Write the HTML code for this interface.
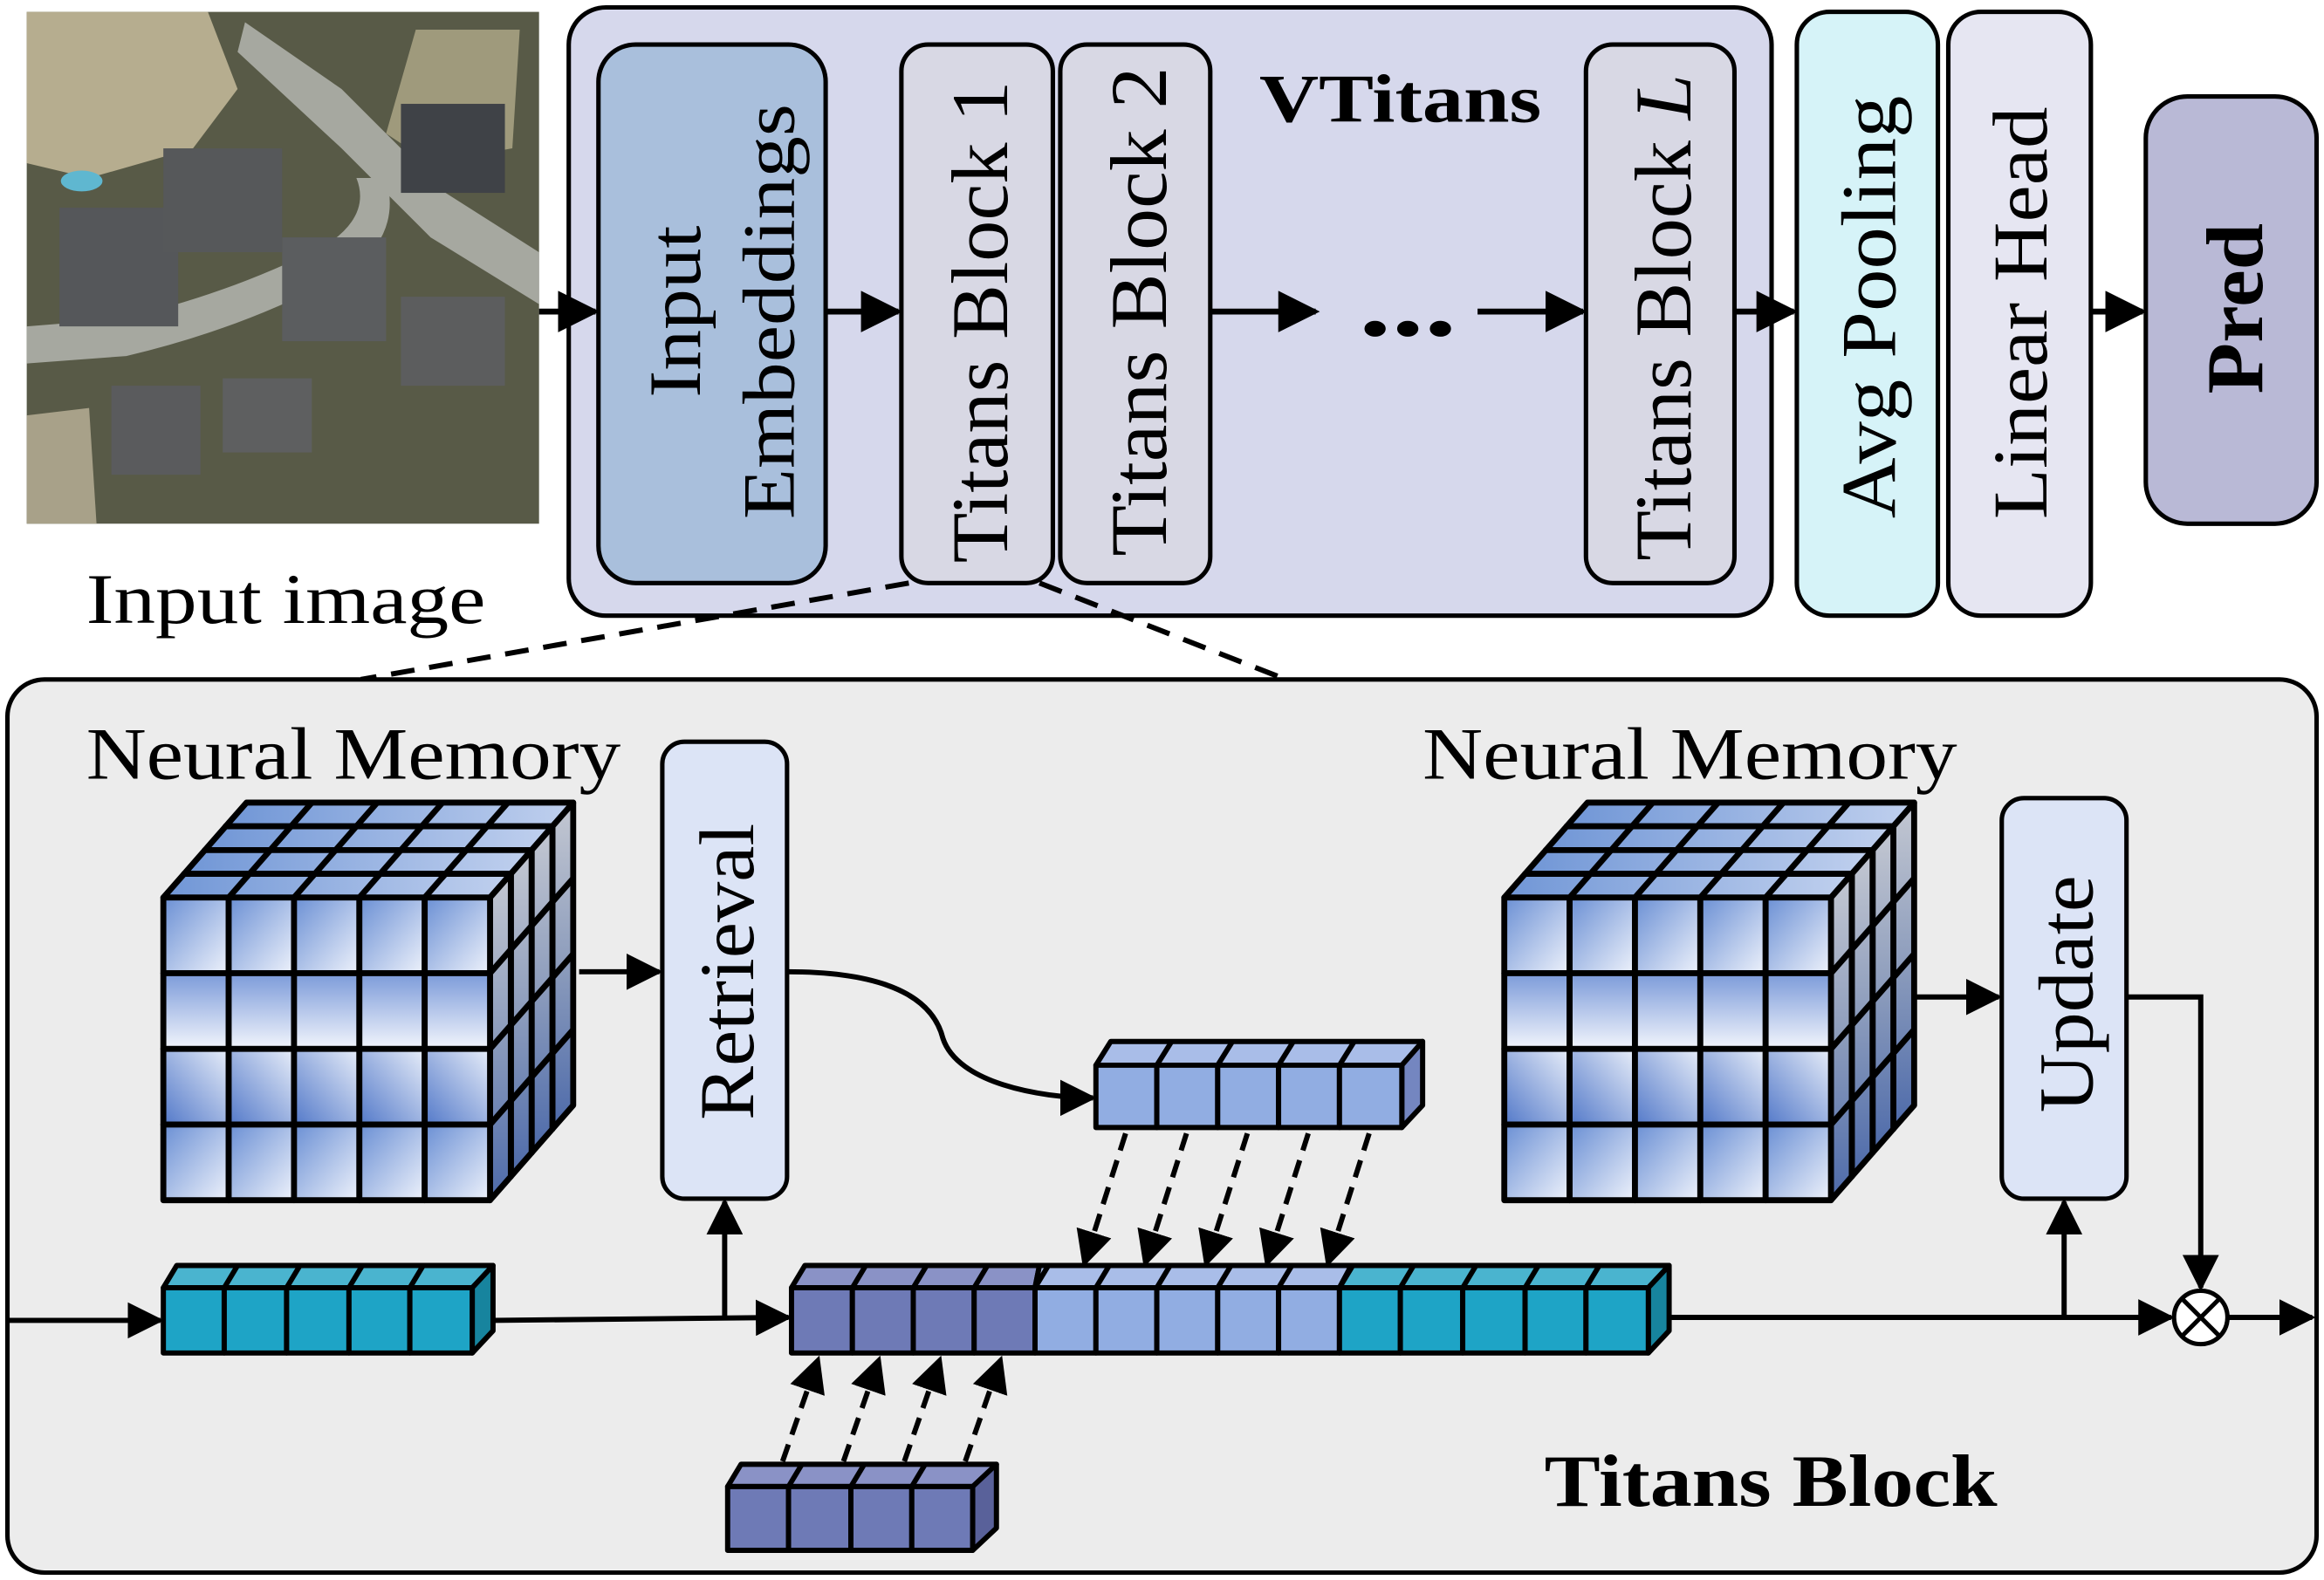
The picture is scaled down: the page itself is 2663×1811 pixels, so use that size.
<!DOCTYPE html>
<html><head><meta charset="utf-8"><style>html,body{margin:0;padding:0;background:#fff}svg{display:block}</style></head>
<body>
<svg width="2663" height="1811" viewBox="0 0 1565 1065" preserveAspectRatio="none" xmlns="http://www.w3.org/2000/svg" font-family="'Liberation Serif', serif">
<defs>
<linearGradient id="gA" x1="0" y1="0" x2="1" y2="1"><stop offset="0" stop-color="#6a8fd4"/><stop offset="1" stop-color="#eef2fb"/></linearGradient>
<linearGradient id="gB" x1="0" y1="1" x2="0" y2="0"><stop offset="0" stop-color="#f2f5fc"/><stop offset="1" stop-color="#7b9ad9"/></linearGradient>
<linearGradient id="gC" x1="0" y1="1" x2="1" y2="0"><stop offset="0" stop-color="#5379c9"/><stop offset="1" stop-color="#e8eef9"/></linearGradient>
<linearGradient id="gT" x1="0" y1="0" x2="1" y2="0"><stop offset="0" stop-color="#7096d6"/><stop offset="1" stop-color="#c0d0ee"/></linearGradient>
<linearGradient id="gS" x1="0" y1="0" x2="0" y2="1"><stop offset="0" stop-color="#c4c8d2"/><stop offset="0.5" stop-color="#8c9cbc"/><stop offset="1" stop-color="#4d6aaa"/></linearGradient>
<g id="row5">
 <rect x="0" y="0" width="44" height="51" fill="url(#gA)" stroke="#000" stroke-width="4"/>
 <rect x="44" y="0" width="44" height="51" fill="url(#gA)" stroke="#000" stroke-width="4"/>
 <rect x="88" y="0" width="44" height="51" fill="url(#gA)" stroke="#000" stroke-width="4"/>
 <rect x="132" y="0" width="44" height="51" fill="url(#gA)" stroke="#000" stroke-width="4"/>
 <rect x="176" y="0" width="44" height="51" fill="url(#gA)" stroke="#000" stroke-width="4"/>
</g>
<g id="row5b">
 <rect x="0" y="0" width="44" height="51" fill="url(#gB)" stroke="#000" stroke-width="4"/>
 <rect x="44" y="0" width="44" height="51" fill="url(#gB)" stroke="#000" stroke-width="4"/>
 <rect x="88" y="0" width="44" height="51" fill="url(#gB)" stroke="#000" stroke-width="4"/>
 <rect x="132" y="0" width="44" height="51" fill="url(#gB)" stroke="#000" stroke-width="4"/>
 <rect x="176" y="0" width="44" height="51" fill="url(#gB)" stroke="#000" stroke-width="4"/>
</g>
<g id="row5c">
 <rect x="0" y="0" width="44" height="51" fill="url(#gC)" stroke="#000" stroke-width="4"/>
 <rect x="44" y="0" width="44" height="51" fill="url(#gC)" stroke="#000" stroke-width="4"/>
 <rect x="88" y="0" width="44" height="51" fill="url(#gC)" stroke="#000" stroke-width="4"/>
 <rect x="132" y="0" width="44" height="51" fill="url(#gC)" stroke="#000" stroke-width="4"/>
 <rect x="176" y="0" width="44" height="51" fill="url(#gC)" stroke="#000" stroke-width="4"/>
</g>
<g id="layer" stroke="#000" stroke-width="4" stroke-linejoin="round">
 <polygon points="0,0 14,-16 234,-16 220,0" fill="url(#gT)"/>
 <line x1="44" y1="0" x2="58" y2="-16"/><line x1="88" y1="0" x2="102" y2="-16"/><line x1="132" y1="0" x2="146" y2="-16"/><line x1="176" y1="0" x2="190" y2="-16"/>
 <polygon points="220,0 234,-16 234,188 220,204" fill="url(#gS)"/>
 <line x1="220" y1="51" x2="234" y2="35"/><line x1="220" y1="102" x2="234" y2="86"/><line x1="220" y1="153" x2="234" y2="137"/>
 <use href="#row5" y="0"/><use href="#row5b" y="51"/><use href="#row5c" y="102"/><use href="#row5" y="153"/>
</g>
<g id="cube">
 <use href="#layer" transform="translate(42,-48)"/>
 <use href="#layer" transform="translate(28,-32)"/>
 <use href="#layer" transform="translate(14,-16)"/>
 <use href="#layer"/>
</g>
<marker id="ah" viewBox="0 0 10 10" refX="9" refY="5" markerWidth="7" markerHeight="7" orient="auto"><path d="M0,0 L10,5 L0,10 z" fill="#000"/></marker>
</defs>

<!-- input image -->
<g>
<rect x="18" y="8" width="345" height="345" fill="#585a47"/>
<path d="M18,8 L140,8 L160,60 L130,100 L60,120 L18,110 Z" fill="#b6ad8f"/>
<path d="M280,20 L350,20 L345,100 L290,110 L260,90 Z" fill="#9f9a7c"/>
<path d="M18,280 L60,275 L65,353 L18,353 Z" fill="#a8a189"/>
<path d="M165,15 L230,60 L300,130 L363,170 L363,205 L290,160 L230,100 L160,35 Z" fill="#a6a8a0"/>
<path d="M240,120 Q250,145 220,165 Q150,200 80,215 L18,220 L18,245 L85,240 Q170,220 240,180 Q270,155 260,120 Z" fill="#a6a8a0"/>
<rect x="40" y="140" width="80" height="80" fill="#55575a"/>
<rect x="190" y="160" width="70" height="70" fill="#5b5d5f"/>
<rect x="110" y="100" width="80" height="70" fill="#56585a"/>
<rect x="270" y="70" width="70" height="60" fill="#3f4247"/>
<rect x="75" y="260" width="60" height="60" fill="#5a5b5d"/>
<rect x="150" y="255" width="60" height="50" fill="#5e5f60"/>
<rect x="270" y="200" width="70" height="60" fill="#5c5d5e"/>
<ellipse cx="55" cy="122" rx="14" ry="7" fill="#5fb7d0"/>
</g>
<text x="58" y="420" font-size="48" textLength="269" lengthAdjust="spacingAndGlyphs">Input image</text>

<!-- VTitans -->
<rect x="383" y="5" width="810" height="410" rx="25" fill="#d6d8ec" stroke="#000" stroke-width="3"/>
<text x="848" y="82" font-size="46" font-weight="bold" textLength="190" lengthAdjust="spacingAndGlyphs">VTitans</text>
<rect x="403" y="30" width="153" height="363" rx="25" fill="#a9bfdc" stroke="#000" stroke-width="3"/>
<text transform="translate(455,210) rotate(-90)" font-size="50" text-anchor="middle" dominant-baseline="central" textLength="116" lengthAdjust="spacingAndGlyphs">Input</text>
<text transform="translate(518,210) rotate(-90)" font-size="50" text-anchor="middle" dominant-baseline="central" textLength="280" lengthAdjust="spacingAndGlyphs">Embeddings</text>
<rect x="607" y="30" width="102" height="363" rx="18" fill="#d8d8e4" stroke="#000" stroke-width="3"/>
<text transform="translate(660,217) rotate(-90)" font-size="54" text-anchor="middle" dominant-baseline="central" textLength="325" lengthAdjust="spacingAndGlyphs">Titans Block 1</text>
<rect x="714" y="30" width="101" height="363" rx="18" fill="#d8d8e4" stroke="#000" stroke-width="3"/>
<text transform="translate(767,210) rotate(-90)" font-size="54" text-anchor="middle" dominant-baseline="central" textLength="330" lengthAdjust="spacingAndGlyphs">Titans Block 2</text>
<rect x="1068" y="30" width="100" height="363" rx="18" fill="#d8d8e4" stroke="#000" stroke-width="3"/>
<text transform="translate(1120,214) rotate(-90)" font-size="54" text-anchor="middle" dominant-baseline="central" textLength="328" lengthAdjust="spacingAndGlyphs">Titans Block <tspan font-style="italic">L</tspan></text>
<rect x="1210" y="8" width="95" height="407" rx="22" fill="#d6f3f8" stroke="#000" stroke-width="3"/>
<text transform="translate(1259,207) rotate(-90)" font-size="52" text-anchor="middle" dominant-baseline="central" textLength="285" lengthAdjust="spacingAndGlyphs">Avg Pooling</text>
<rect x="1312" y="8" width="96" height="407" rx="22" fill="#e6e6f2" stroke="#000" stroke-width="3"/>
<text transform="translate(1361,211) rotate(-90)" font-size="52" text-anchor="middle" dominant-baseline="central" textLength="278" lengthAdjust="spacingAndGlyphs">Linear Head</text>
<rect x="1445" y="65" width="115" height="288" rx="28" fill="#b9b9d6" stroke="#000" stroke-width="3"/>
<text transform="translate(1505,208) rotate(-90)" font-size="54" font-weight="bold" text-anchor="middle" dominant-baseline="central" textLength="115" lengthAdjust="spacingAndGlyphs">Pred</text>

<g stroke="#000" stroke-width="4" fill="none">
<line x1="363" y1="210" x2="401" y2="210" marker-end="url(#ah)"/>
<line x1="556" y1="210" x2="605" y2="210" marker-end="url(#ah)"/>
<line x1="815" y1="210" x2="886" y2="210" marker-end="url(#ah)"/>
<line x1="995" y1="210" x2="1066" y2="210" marker-end="url(#ah)"/>
<line x1="1168" y1="210" x2="1208" y2="210" marker-end="url(#ah)"/>
<line x1="1408" y1="210" x2="1443" y2="210" marker-end="url(#ah)"/>
<line x1="612" y1="393" x2="243" y2="458" stroke-dasharray="16,10" stroke-width="3.5"/>
<line x1="700" y1="393" x2="866" y2="458" stroke-dasharray="16,10" stroke-width="3.5"/>
</g>
<text x="948" y="226" font-size="66" font-weight="bold" text-anchor="middle" textLength="66" lengthAdjust="spacingAndGlyphs">...</text>

<!-- Titans block -->
<rect x="5" y="458" width="1555" height="602" rx="25" fill="#ececec" stroke="#000" stroke-width="3"/>
<text x="58" y="525" font-size="50" textLength="360" lengthAdjust="spacingAndGlyphs">Neural Memory</text>
<text x="958" y="525" font-size="50" textLength="360" lengthAdjust="spacingAndGlyphs">Neural Memory</text>
<text x="1040" y="1015" font-size="50" font-weight="bold" textLength="305" lengthAdjust="spacingAndGlyphs">Titans Block</text>

<use href="#cube" transform="translate(110,605)"/>
<use href="#cube" transform="translate(1013,605)"/>

<rect x="446" y="500" width="84" height="308" rx="15" fill="#dce4f6" stroke="#000" stroke-width="3"/>
<text transform="translate(490,655) rotate(-90)" font-size="52" text-anchor="middle" dominant-baseline="central" textLength="200" lengthAdjust="spacingAndGlyphs">Retrieval</text>
<rect x="1348" y="538" width="84" height="270" rx="15" fill="#dce4f6" stroke="#000" stroke-width="3"/>
<text transform="translate(1392,670) rotate(-90)" font-size="52" text-anchor="middle" dominant-baseline="central" textLength="160" lengthAdjust="spacingAndGlyphs">Update</text>

<!-- token rows -->
<g stroke="#000" stroke-width="3.5" stroke-linejoin="round">
 <polygon points="738,718 748,702 958,702 948,718" fill="#a9bde8"/>
 <polygon points="944,718 958,702 958,745 944,760" fill="#7486c0"/>
 <rect x="738" y="718" width="41" height="42" fill="#91ade2"/><rect x="779" y="718" width="41" height="42" fill="#91ade2"/><rect x="820" y="718" width="41" height="42" fill="#91ade2"/><rect x="861" y="718" width="41" height="42" fill="#91ade2"/><rect x="902" y="718" width="42" height="42" fill="#91ade2"/>
 <line x1="779" y1="718" x2="789" y2="702"/><line x1="820" y1="718" x2="830" y2="702"/><line x1="861" y1="718" x2="871" y2="702"/><line x1="902" y1="718" x2="912" y2="702"/>
 <polygon points="110,868 119,853 332,853 320,868" fill="#4ab4cf"/>
 <polygon points="318,868 332,853 332,897 318,912" fill="#17849e"/>
 <rect x="110" y="868" width="41" height="44" fill="#1ea4c6"/><rect x="151" y="868" width="42" height="44" fill="#1ea4c6"/><rect x="193" y="868" width="42" height="44" fill="#1ea4c6"/><rect x="235" y="868" width="41" height="44" fill="#1ea4c6"/><rect x="276" y="868" width="42" height="44" fill="#1ea4c6"/>
 <line x1="151" y1="868" x2="160" y2="853"/><line x1="193" y1="868" x2="202" y2="853"/><line x1="235" y1="868" x2="244" y2="853"/><line x1="276" y1="868" x2="285" y2="853"/>
 <polygon points="533,868 542,853 700,853 697,868" fill="#8a92c6"/>
 <polygon points="697,868 700,853 910,853 902,868" fill="#a9bde8"/>
 <polygon points="902,868 910,853 1124,853 1110,868" fill="#4ab4cf"/>
 <polygon points="1110,868 1124,853 1124,897 1110,912" fill="#17849e"/>
 <rect x="533" y="868" width="41" height="44" fill="#6e7ab6"/><rect x="574" y="868" width="41" height="44" fill="#6e7ab6"/><rect x="615" y="868" width="41" height="44" fill="#6e7ab6"/><rect x="656" y="868" width="41" height="44" fill="#6e7ab6"/>
 <rect x="697" y="868" width="41" height="44" fill="#91ade2"/><rect x="738" y="868" width="41" height="44" fill="#91ade2"/><rect x="779" y="868" width="41" height="44" fill="#91ade2"/><rect x="820" y="868" width="41" height="44" fill="#91ade2"/><rect x="861" y="868" width="41" height="44" fill="#91ade2"/>
 <rect x="902" y="868" width="41" height="44" fill="#1ea4c6"/><rect x="943" y="868" width="42" height="44" fill="#1ea4c6"/><rect x="985" y="868" width="42" height="44" fill="#1ea4c6"/><rect x="1027" y="868" width="41" height="44" fill="#1ea4c6"/><rect x="1068" y="868" width="42" height="44" fill="#1ea4c6"/>
 <line x1="574" y1="868" x2="583" y2="853"/><line x1="615" y1="868" x2="624" y2="853"/><line x1="656" y1="868" x2="665" y2="853"/><line x1="697" y1="868" x2="706" y2="853"/><line x1="738" y1="868" x2="747" y2="853"/><line x1="779" y1="868" x2="788" y2="853"/><line x1="820" y1="868" x2="829" y2="853"/><line x1="861" y1="868" x2="870" y2="853"/><line x1="902" y1="868" x2="911" y2="853"/><line x1="943" y1="868" x2="952" y2="853"/><line x1="985" y1="868" x2="994" y2="853"/><line x1="1027" y1="868" x2="1036" y2="853"/><line x1="1068" y1="868" x2="1077" y2="853"/>
 <polygon points="490,1002 499,987 671,987 657,1002" fill="#8a92c6"/>
 <polygon points="655,1002 671,987 671,1030 655,1045" fill="#59619a"/>
 <rect x="490" y="1002" width="41" height="43" fill="#6e7ab6"/><rect x="531" y="1002" width="42" height="43" fill="#6e7ab6"/><rect x="573" y="1002" width="41" height="43" fill="#6e7ab6"/><rect x="614" y="1002" width="41" height="43" fill="#6e7ab6"/>
 <line x1="531" y1="1002" x2="540" y2="987"/><line x1="573" y1="1002" x2="582" y2="987"/><line x1="614" y1="1002" x2="623" y2="987"/>
</g>

<!-- connectors -->
<g stroke="#000" stroke-width="3.5" fill="none">
<line x1="5" y1="890" x2="108" y2="890" marker-end="url(#ah)"/>
<polyline points="332,890 531,888" marker-end="url(#ah)"/>
<line x1="488" y1="889" x2="488" y2="810" marker-end="url(#ah)"/>
<line x1="390" y1="655" x2="444" y2="655" marker-end="url(#ah)"/>
<line x1="1288" y1="672" x2="1346" y2="672" marker-end="url(#ah)"/>
<path d="M530,655 C610,655 630,680 635,700 C645,730 700,740 736,740" marker-end="url(#ah)"/>
<line x1="1124" y1="888" x2="1462" y2="888" marker-end="url(#ah)"/>
<line x1="1390" y1="888" x2="1390" y2="810" marker-end="url(#ah)"/>
<polyline points="1432,672 1482,672 1482,868" marker-end="url(#ah)"/>
<line x1="1500" y1="888" x2="1557" y2="888" marker-end="url(#ah)"/>
<circle cx="1482" cy="888" r="18" fill="#fff" stroke-width="3"/>
<line x1="1469" y1="875" x2="1495" y2="901" stroke-width="3"/><line x1="1495" y1="875" x2="1469" y2="901" stroke-width="3"/>
<g stroke-dasharray="12,7" stroke-width="3.5">
 <line x1="758" y1="764" x2="730" y2="852" marker-end="url(#ah)"/>
 <line x1="799" y1="764" x2="771" y2="852" marker-end="url(#ah)"/>
 <line x1="840" y1="764" x2="812" y2="852" marker-end="url(#ah)"/>
 <line x1="881" y1="764" x2="853" y2="852" marker-end="url(#ah)"/>
 <line x1="922" y1="764" x2="894" y2="852" marker-end="url(#ah)"/>
 <line x1="527" y1="985" x2="551" y2="916" marker-end="url(#ah)"/>
 <line x1="568" y1="985" x2="592" y2="916" marker-end="url(#ah)"/>
 <line x1="609" y1="985" x2="633" y2="916" marker-end="url(#ah)"/>
 <line x1="650" y1="985" x2="674" y2="916" marker-end="url(#ah)"/>
</g>
</g>
</svg>
</body></html>
